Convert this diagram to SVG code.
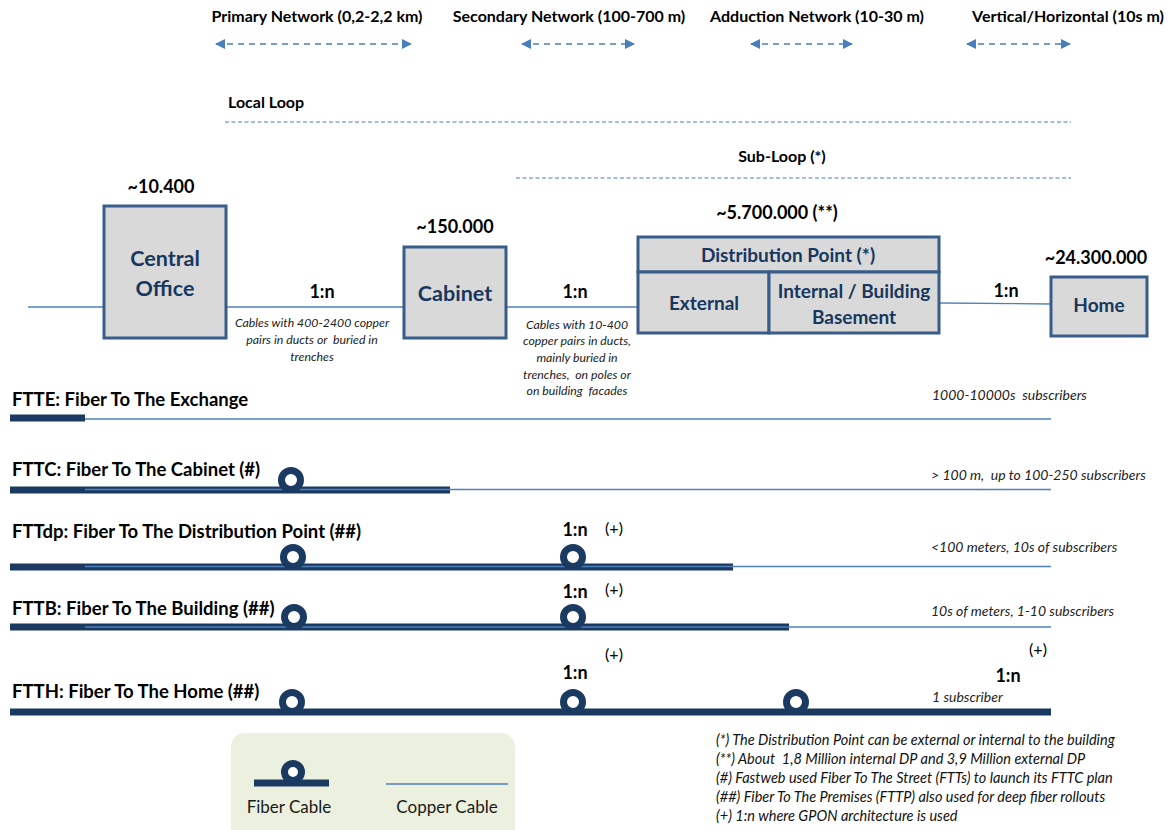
<svg xmlns="http://www.w3.org/2000/svg" width="1171" height="830" viewBox="0 0 1171 830">
<defs>
<style>
text{font-family:Lato,"Liberation Sans",sans-serif;fill:#000;white-space:pre}
.hd{font-size:16px;font-weight:bold}
.num{font-size:18px;font-weight:bold;text-anchor:middle}
.nl{font-size:21.5px;font-weight:bold;fill:#17375e;text-anchor:middle}
.nm{font-size:19px;font-weight:bold;fill:#17375e;text-anchor:middle}
.box{fill:#d9d9d9;stroke:#385d8a;stroke-width:3}
.it{font-size:14px;font-style:italic;fill:#222}
.itc{font-size:12.3px;font-style:italic;fill:#222;text-anchor:middle}
.ft{font-size:18.5px;font-weight:bold}
.rn{font-size:18px;font-weight:bold;text-anchor:middle}
.pl{font-size:16px;text-anchor:middle}
.lg{font-size:17px;text-anchor:middle;fill:#1a1a1a}
.cu{stroke:#4f81bd;stroke-width:1.3;fill:none}
.fi{stroke:#1b3a61;stroke-width:7;fill:none}
.lp{fill:#fff;stroke:#1b3a61;stroke-width:7}
.arr{stroke:#4a7ebb;stroke-width:1.4;stroke-dasharray:6 5;fill:none}
.dl{stroke:#4a7ebb;stroke-width:1.1;stroke-dasharray:4 2.5;fill:none}
.note{font-size:14.5px;font-style:italic;fill:#111}
</style>
<marker id="ah" viewBox="0 0 10 10" refX="9" refY="5" markerWidth="10" markerHeight="10" markerUnits="userSpaceOnUse" orient="auto-start-reverse">
<path d="M0,0 L10,5 L0,10 z" fill="#4a7ebb"/>
</marker>
</defs>

<g id="headers">
<text class="hd" x="317" y="22" text-anchor="middle">Primary Network (0,2-2,2 km)</text>
<text class="hd" x="569" y="22" text-anchor="middle">Secondary Network (100-700 m)</text>
<text class="hd" x="817" y="22" text-anchor="middle">Adduction Network (10-30 m)</text>
<text class="hd" x="1068" y="22" text-anchor="middle">Vertical/Horizontal (10s m)</text>
<text class="hd" x="228" y="108">Local Loop</text>
<text class="hd" x="782" y="162" text-anchor="middle">Sub-Loop (*)</text>
</g>

<g id="connectors">
<line class="arr" x1="216" y1="44" x2="411" y2="44" marker-start="url(#ah)" marker-end="url(#ah)"/>
<line class="arr" x1="522" y1="44" x2="634" y2="44" marker-start="url(#ah)" marker-end="url(#ah)"/>
<line class="arr" x1="751" y1="44" x2="852" y2="44" marker-start="url(#ah)" marker-end="url(#ah)"/>
<line class="arr" x1="967" y1="44" x2="1070" y2="44" marker-start="url(#ah)" marker-end="url(#ah)"/>
<line class="dl" x1="225" y1="122" x2="1071" y2="122"/>
<line class="dl" x1="516" y1="178" x2="1071" y2="178"/>
<line class="cu" x1="28" y1="307" x2="638" y2="307"/>
<line class="cu" x1="939" y1="303" x2="1051" y2="304"/>
</g>

<g id="central-office">
<text class="num" x="161" y="193">~10.400</text>
<rect class="box" x="104" y="206" width="122" height="132"/>
<text class="nl" x="165" y="266">Central</text>
<text class="nl" x="165" y="296">Office</text>
</g>

<g id="cabinet">
<text class="num" x="455" y="233">~150.000</text>
<rect class="box" x="404" y="247" width="102" height="91"/>
<text class="nl" x="455" y="301">Cabinet</text>
</g>

<g id="distribution-point">
<text class="num" x="777" y="219">~5.700.000 (**)</text>
<rect class="box" x="638" y="237" width="301" height="35"/>
<text class="nm" x="788" y="262">Distribution Point (*)</text>
<rect class="box" x="638" y="272" width="131" height="61"/>
<text class="nm" x="704" y="310">External</text>
<rect class="box" x="769" y="272" width="170" height="61"/>
<text class="nm" x="854" y="298">Internal / Building</text>
<text class="nm" x="854" y="324">Basement</text>
</g>

<g id="home">
<text class="num" x="1096" y="264">~24.300.000</text>
<rect class="box" x="1051" y="277" width="96" height="59"/>
<text class="nm" x="1099" y="312">Home</text>
</g>

<g id="ratios">
<text class="rn" x="322" y="298">1:n</text>
<text class="rn" x="575" y="298">1:n</text>
<text class="rn" x="1006" y="297">1:n</text>
</g>

<g id="cable-notes">
<text class="itc" x="312" y="327">Cables with 400-2400 copper</text>
<text class="itc" x="312" y="344">pairs in ducts or  buried in</text>
<text class="itc" x="312" y="361">trenches</text>
<text class="itc" x="577" y="329">Cables with 10-400</text>
<text class="itc" x="577" y="345">copper pairs in ducts,</text>
<text class="itc" x="577" y="362">mainly buried in</text>
<text class="itc" x="577" y="379">trenches,  on poles or</text>
<text class="itc" x="577" y="395">on building  facades</text>
</g>

<g id="ftte">
<text class="ft" x="12" y="406">FTTE: Fiber To The Exchange</text>
<line class="fi" x1="10" y1="418" x2="85" y2="418"/>
<line class="cu" x1="85" y1="419" x2="1051" y2="419"/>
<text class="it" x="932" y="400">1000-10000s  subscribers</text>
</g>

<g id="fttc">
<text class="ft" x="12" y="476">FTTC: Fiber To The Cabinet (#)</text>
<line class="fi" x1="10" y1="490" x2="450" y2="490"/>
<line class="cu" x1="85" y1="489.5" x2="1051" y2="489.5"/>
<circle class="lp" cx="291" cy="480" r="9.5"/>
<text class="it" x="931" y="480">&gt; 100 m,  up to 100-250 subscribers</text>
</g>

<g id="fttdp">
<text class="ft" x="12" y="538">FTTdp: Fiber To The Distribution Point (##)</text>
<line class="fi" x1="10" y1="567" x2="733" y2="567"/>
<line class="cu" x1="85" y1="566.5" x2="1051" y2="566.5"/>
<circle class="lp" cx="293" cy="557" r="9.5"/>
<circle class="lp" cx="573" cy="557" r="9.5"/>
<text class="rn" x="575" y="536">1:n</text>
<text class="pl" x="614" y="534">(+)</text>
<text class="it" x="931" y="552">&lt;100 meters, 10s of subscribers</text>
</g>

<g id="fttb">
<text class="ft" x="12" y="615">FTTB: Fiber To The Building (##)</text>
<line class="fi" x1="10" y1="627" x2="789" y2="627"/>
<line class="cu" x1="85" y1="627" x2="1051" y2="627"/>
<circle class="lp" cx="294" cy="617" r="9.5"/>
<circle class="lp" cx="573" cy="617" r="9.5"/>
<text class="rn" x="575" y="598">1:n</text>
<text class="pl" x="614" y="595">(+)</text>
<text class="it" x="931" y="616">10s of meters, 1-10 subscribers</text>
</g>

<g id="ftth">
<text class="ft" x="12" y="698">FTTH: Fiber To The Home (##)</text>
<line class="fi" x1="10" y1="712" x2="1051" y2="712"/>
<circle class="lp" cx="292" cy="702" r="9.5"/>
<circle class="lp" cx="573" cy="702" r="9.5"/>
<circle class="lp" cx="796" cy="702" r="9.5"/>
<text class="rn" x="575" y="679">1:n</text>
<text class="pl" x="614" y="660">(+)</text>
<text class="rn" x="1008" y="682">1:n</text>
<text class="pl" x="1038" y="655">(+)</text>
<text class="it" x="932" y="702">1 subscriber</text>
</g>

<g id="legend">
<rect x="231" y="733" width="284" height="110" rx="14" fill="#ebf0df"/>
<line class="fi" x1="254" y1="783" x2="329" y2="783" stroke-width="8"/>
<circle class="lp" cx="293" cy="772" r="8.5"/>
<text class="lg" x="289" y="813">Fiber Cable</text>
<line class="cu" x1="386" y1="784" x2="508" y2="784"/>
<text class="lg" x="447" y="813">Copper Cable</text>
</g>

<g id="footnotes">
<text class="note" x="716" y="745">(*) The Distribution Point can be external or internal to the building</text>
<text class="note" x="716" y="764">(**) About  1,8 Million internal DP and 3,9 Million external DP</text>
<text class="note" x="716" y="783">(#) Fastweb used Fiber To The Street (FTTs) to launch its FTTC plan</text>
<text class="note" x="716" y="802">(##) Fiber To The Premises (FTTP) also used for deep fiber rollouts</text>
<text class="note" x="716" y="821">(+) 1:n where GPON architecture is used</text>
</g>
</svg>
